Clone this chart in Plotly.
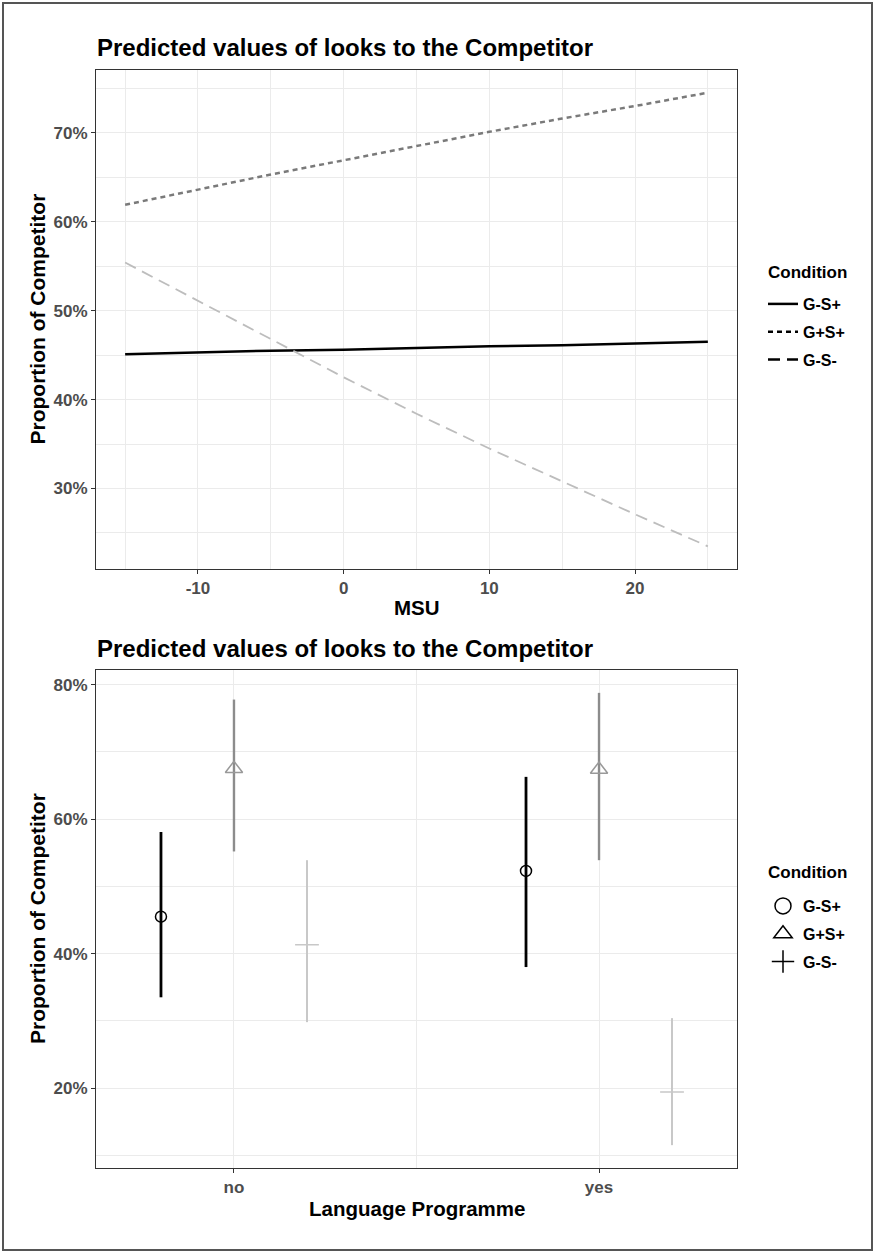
import plotly.graph_objects as go

# ---------------- data ----------------
conditions = ["G-S+", "G+S+", "G-S-"]

# Top panel: predicted proportion (%) vs MSU
msu = [-15, -10, -5, 0, 5, 10, 15, 20, 25]
gsp_line = [45.1, 45.3, 45.5, 45.6, 45.8, 46.0, 46.1, 46.3, 46.5]
gpsp_line = [61.9, 63.6, 65.3, 66.9, 68.5, 70.1, 71.6, 73.0, 74.5]
gsm_line = [55.4, 51.1, 46.8, 42.5, 38.4, 34.5, 30.8, 27.1, 23.5]
top_yticks = [30, 40, 50, 60, 70]
top_xticks = [-10, 0, 10, 20]

# Bottom panel: predicted proportion (%) by Language Programme
programme = ["no", "yes"]
gsp_pt = [45.5, 52.3]
gsp_lo = [33.5, 38.0]
gsp_hi = [58.1, 66.3]
gpsp_pt = [67.5, 67.4]
gpsp_lo = [55.2, 53.9]
gpsp_hi = [77.8, 78.8]
gsm_pt = [41.3, 19.4]
gsm_lo = [29.8, 11.5]
gsm_hi = [53.9, 30.4]
bot_yticks = [20, 40, 60, 80]

# ---------------- styling ----------------
W, H = 875, 1253
FONT = "Liberation Sans, Arial, Helvetica, sans-serif"
TICKCOL = "#4d4d4d"
GRID = "#ebebeb"

line_colors = ["#000000", "#7a7a7a", "#bdbdbd"]
line_dash = ["solid", "5px,4px", "12px,7px"]
line_width = [2.5, 2.5, 1.8]

pt_colors = ["#000000", "#8c8c8c", "#c8c8c8"]
bar_width = [2.8, 2.4, 2.0]
symbols = ["circle-open", "triangle-up-open", "cross-thin-open"]
sym_colors = ["#000000", "#999999", "#c8c8c8"]
sym_sizes = [11, 15, 17]
dodge = [-0.2, 0.0, 0.2]

px = lambda v: v / W
py = lambda v: 1 - v / H

fig = go.Figure()

# ---- top panel lines ----
for i, ys in enumerate([gsp_line, gpsp_line, gsm_line]):
    fig.add_trace(go.Scatter(
        x=msu, y=ys, mode="lines", showlegend=False,
        line=dict(color=line_colors[i], dash=line_dash[i], width=line_width[i]),
        xaxis="x", yaxis="y"))
# legend entries (black keys like ggplot)
for i, c in enumerate(conditions):
    fig.add_trace(go.Scatter(
        x=[None], y=[None], mode="lines", name=c, legend="legend",
        legendgroup="t" + c,
        line=dict(color="#000000", dash=line_dash[i], width=2.5),
        xaxis="x", yaxis="y"))

# ---- bottom panel points with CI ----
pts = [(gsp_pt, gsp_lo, gsp_hi), (gpsp_pt, gpsp_lo, gpsp_hi), (gsm_pt, gsm_lo, gsm_hi)]
for i, (p, lo, hi) in enumerate(pts):
    xs = [k + 1 + dodge[i] for k in range(len(programme))]
    fig.add_trace(go.Scatter(
        x=xs, y=p, mode="markers", showlegend=False,
        marker=dict(symbol=symbols[i], size=sym_sizes[i], color=sym_colors[i],
                    line=dict(color=sym_colors[i], width=1.5)),
        error_y=dict(type="data", symmetric=False,
                     array=[h - v for h, v in zip(hi, p)],
                     arrayminus=[v - l for v, l in zip(p, lo)],
                     color=pt_colors[i], thickness=bar_width[i], width=0),
        xaxis="x2", yaxis="y2"))
for i, c in enumerate(conditions):
    fig.add_trace(go.Scatter(
        x=[None], y=[None], mode="markers", name=c, legend="legend2",
        legendgroup="b" + c,
        marker=dict(symbol=symbols[i], size=16, color="#000000",
                    line=dict(color="#000000", width=1.5)),
        xaxis="x2", yaxis="y2"))

axis_common = dict(
    showline=True, linecolor="#333333", linewidth=1, mirror=True,
    ticks="outside", ticklen=4, tickcolor="#333333", tickwidth=1,
    tickfont=dict(family=FONT, size=17, color=TICKCOL, weight="bold"),
    showgrid=True, gridcolor=GRID, gridwidth=1.2, zeroline=False,
)

xdom = [px(96), px(737)]
leg_font = dict(family=FONT, size=16, color="#000", weight="bold")
fig.update_layout(
    width=W, height=H,
    margin=dict(l=0, r=0, t=0, b=0),
    paper_bgcolor="white", plot_bgcolor="white",
    font=dict(family=FONT),
    xaxis=dict(domain=xdom, anchor="y", range=[-17, 27],
               tickvals=top_xticks, ticktext=[str(v) for v in top_xticks],
               minor=dict(tickvals=[-15, -5, 5, 15, 25], showgrid=True,
                          gridcolor=GRID, gridwidth=0.6, ticks=""),
               **axis_common),
    yaxis=dict(domain=[py(569), py(70)], anchor="x", range=[20.95, 77.05],
               tickvals=top_yticks, ticktext=[f"{v}%" for v in top_yticks],
               minor=dict(tickvals=[25, 35, 45, 55, 65, 75], showgrid=True,
                          gridcolor=GRID, gridwidth=0.6, ticks=""),
               **axis_common),
    xaxis2=dict(domain=xdom, anchor="y2", range=[0.622, 2.378],
                tickvals=[1, 2], ticktext=programme,
                minor=dict(tickvals=[1.5], showgrid=True,
                           gridcolor=GRID, gridwidth=0.6, ticks=""),
                **axis_common),
    yaxis2=dict(domain=[py(1168), py(670)], anchor="x2", range=[8.1, 82.2],
                tickvals=bot_yticks, ticktext=[f"{v}%" for v in bot_yticks],
                minor=dict(tickvals=[10, 30, 50, 70], showgrid=True,
                           gridcolor=GRID, gridwidth=0.6, ticks=""),
                **axis_common),
    legend=dict(x=px(763), y=py(287), xanchor="left", yanchor="top",
                font=leg_font, tracegroupgap=4, bgcolor="rgba(0,0,0,0)"),
    legend2=dict(x=px(763), y=py(889), xanchor="left", yanchor="top",
                 font=leg_font, tracegroupgap=4, bgcolor="rgba(0,0,0,0)"),
)

title_txt = "Predicted values of looks to the Competitor"
ann = []
for yy in [47, 648]:
    ann.append(dict(text=title_txt, x=px(95), y=py(yy), xref="paper", yref="paper",
                    xanchor="left", yanchor="middle", showarrow=False,
                    font=dict(family=FONT, size=24, color="#000", weight="bold")))
for yc in [319.5, 919]:
    ann.append(dict(text="Proportion of Competitor", x=px(37), y=py(yc), xref="paper", yref="paper",
                    xanchor="center", yanchor="middle", showarrow=False, textangle=-90,
                    font=dict(family=FONT, size=21, color="#000", weight="bold")))
ann.append(dict(text="MSU", x=px(416.5), y=py(607), xref="paper", yref="paper",
                xanchor="center", yanchor="middle", showarrow=False,
                font=dict(family=FONT, size=20.5, color="#000", weight="bold")))
ann.append(dict(text="Language Programme", x=px(416.5), y=py(1208), xref="paper", yref="paper",
                xanchor="center", yanchor="middle", showarrow=False,
                font=dict(family=FONT, size=20.5, color="#000", weight="bold")))
for yy in [272, 872]:
    ann.append(dict(text="Condition", x=px(766), y=py(yy), xref="paper", yref="paper",
                    xanchor="left", yanchor="middle", showarrow=False,
                    font=dict(family=FONT, size=17, color="#000", weight="bold")))
fig.update_layout(annotations=ann)

fig.add_shape(type="rect", xref="paper", yref="paper",
              x0=px(3), x1=px(872), y0=py(1250), y1=py(3),
              line=dict(color="#555555", width=2), fillcolor="rgba(0,0,0,0)", layer="above")

fig.write_html("out.html", config={"displayModeBar": False},
               post_script="document.body.style.margin='0px';")
